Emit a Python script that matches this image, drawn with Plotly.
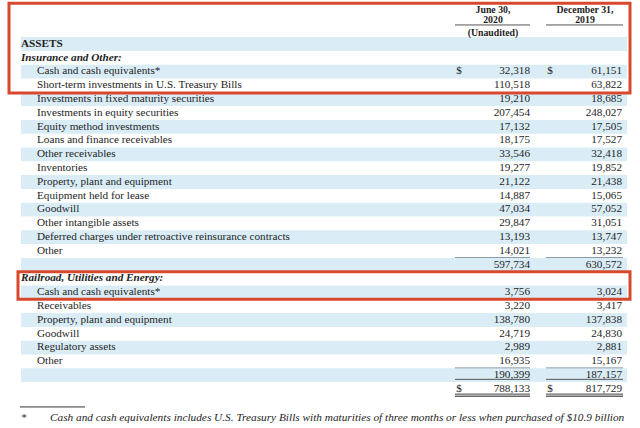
import plotly.graph_objects as go

# ---------------- data ----------------
labels = [
    "ASSETS",
    "Insurance and Other:",
    "Cash and cash equivalents*",
    "Short-term investments in U.S. Treasury Bills",
    "Investments in fixed maturity securities",
    "Investments in equity securities",
    "Equity method investments",
    "Loans and finance receivables",
    "Other receivables",
    "Inventories",
    "Property, plant and equipment",
    "Equipment held for lease",
    "Goodwill",
    "Other intangible assets",
    "Deferred charges under retroactive reinsurance contracts",
    "Other",
    "",
    "Railroad, Utilities and Energy:",
    "Cash and cash equivalents*",
    "Receivables",
    "Property, plant and equipment",
    "Goodwill",
    "Regulatory assets",
    "Other",
    "",
    "",
]
june_2020 = [None, None, 32318, 110518, 19210, 207454, 17132, 18175, 33546, 19277,
             21122, 14887, 47034, 29847, 13193, 14021, 597734,
             None, 3756, 3220, 138780, 24719, 2989, 16935, 190399, 788133]
dec_2019 = [None, None, 61151, 63822, 18685, 248027, 17505, 17527, 32418, 19852,
            21438, 15065, 57052, 31051, 13747, 13232, 630572,
            None, 3024, 3417, 137838, 24830, 2881, 15167, 187157, 817729]
col_headers = [["June 30,", "2020", "(Unaudited)"], ["December 31,", "2019", ""]]
dollar_rows = [2, 25]
section_rows = [0, 1, 17]
footnote_mark = "*"
footnote_lines = [
    "Cash and cash equivalents includes U.S. Treasury Bills with maturities of three months or less when purchased of $10.9 billion",
    "at June 30, 2020 and $37.4 billion at December 31, 2019.",
]

# ---------------- styling / layout ----------------
FONT = "Liberation Serif"
INK = "#1e1e1e"
STRIPE = "#daedf7"
RED = "#d7482c"
FS = 11.2
X_SECTION, X_ITEM = 21, 37
X_COL1, X_COL2 = 530, 622
X_D1, X_D2 = 459, 550
C1, C2 = 493, 585
ROW0_PX, ROW_PX = 44, 13.8

rows = list(range(len(labels)))
fig = go.Figure()

# stripes
shapes = []
for r in rows:
    if r % 2 == 0:
        shapes.append(dict(type="rect", xref="x", yref="y", x0=21, x1=627,
                           y0=r - 0.5, y1=r + 0.5, fillcolor=STRIPE,
                           line=dict(width=0), layer="below"))

# labels
sec_y, sec_t, item_y, item_t = [], [], [], []
for r in rows:
    if not labels[r]:
        continue
    if r in section_rows:
        sec_y.append(r)
        sec_t.append("<b>%s</b>" % labels[r] if r == 0 else "<b><i>%s</i></b>" % labels[r])
    else:
        item_y.append(r)
        item_t.append(labels[r])

fig.add_trace(go.Scatter(x=[X_SECTION] * len(sec_y), y=sec_y, text=sec_t, mode="text",
                         textposition="middle right", cliponaxis=False, hoverinfo="skip",
                         textfont=dict(family=FONT, size=FS, color=INK)))
fig.add_trace(go.Scatter(x=[X_ITEM] * len(item_y), y=item_y, text=item_t, mode="text",
                         textposition="middle right", cliponaxis=False, hoverinfo="skip",
                         textfont=dict(family=FONT, size=FS, color=INK)))

# values
for xv, vals in ((X_COL1, june_2020), (X_COL2, dec_2019)):
    ys = [r for r in rows if vals[r] is not None]
    fig.add_trace(go.Scatter(x=[xv] * len(ys), y=ys, text=["{:,}".format(vals[r]) for r in ys],
                             mode="text", textposition="middle left", cliponaxis=False,
                             hoverinfo="skip",
                             textfont=dict(family=FONT, size=FS, color=INK)))
for xd in (X_D1, X_D2):
    fig.add_trace(go.Scatter(x=[xd] * len(dollar_rows), y=dollar_rows, text=["$"] * len(dollar_rows),
                             mode="text", textposition="middle center", cliponaxis=False,
                             hoverinfo="skip",
                             textfont=dict(family=FONT, size=FS, color=INK)))

# column headers
hdr_y = [-2.4, -1.68, -0.76]
for cx, hdr in ((C1, col_headers[0]), (C2, col_headers[1])):
    fig.add_trace(go.Scatter(x=[cx] * len(hdr), y=hdr_y[:len(hdr)],
                             text=["<b>%s</b>" % h for h in hdr], mode="text",
                             textposition="middle center", cliponaxis=False, hoverinfo="skip",
                             textfont=dict(family=FONT, size=9.8, color=INK)))

# footnote
fig.add_trace(go.Scatter(x=[24], y=[27.1], text=[footnote_mark], mode="text",
                         textposition="middle center", cliponaxis=False, hoverinfo="skip",
                         textfont=dict(family=FONT, size=10.5, color=INK)))
fig.add_trace(go.Scatter(x=[50, 50], y=[27.1, 28.0], text=["<i>%s</i>" % t for t in footnote_lines],
                         mode="text", textposition="middle right", cliponaxis=False,
                         hoverinfo="skip",
                         textfont=dict(family=FONT, size=11.3, color=INK)))

# rules
def hline(x0, x1, y, w=1, color="#8a9aa8"):
    shapes.append(dict(type="line", xref="x", yref="y", x0=x0, x1=x1, y0=y, y1=y,
                       line=dict(color=color, width=w)))

for (a, b) in ((455, 530), (546, 623)):
    hline(a, b, -1.38, 1, "#555")
    hline(a, b, 15.47, 1)
    hline(a, b, 23.47, 1)
    hline(a, b, 24.3, 1, "#555")
    hline(a, b, 25.37, 1.4, "#666")
    hline(a, b, 25.52, 1.4, "#666")
hline(20, 85, 26.3, 1, "#333")

# red highlight boxes
shapes.append(dict(type="rect", xref="x", yref="y", x0=9, x1=630, y0=-2.95, y1=3.55,
                   line=dict(color=RED, width=3), fillcolor="rgba(0,0,0,0)"))
shapes.append(dict(type="rect", xref="x", yref="y", x0=18, x1=630, y0=16.5, y1=18.5,
                   line=dict(color=RED, width=3), fillcolor="rgba(0,0,0,0)"))

W, H = 640, 428
y_top = -ROW0_PX / ROW_PX
y_bot = (H - ROW0_PX) / ROW_PX
fig.update_layout(
    width=W, height=H, margin=dict(l=0, r=0, t=0, b=0),
    paper_bgcolor="white", plot_bgcolor="white", showlegend=False,
    hovermode=False,
    xaxis=dict(range=[0, W], visible=False, fixedrange=True),
    yaxis=dict(range=[y_bot, y_top], visible=False, fixedrange=True),
    shapes=shapes,
)
fig.write_html("out.html", config={"displayModeBar": False, "staticPlot": True},
               post_script="document.body.style.margin='0';document.body.style.padding='0';")
